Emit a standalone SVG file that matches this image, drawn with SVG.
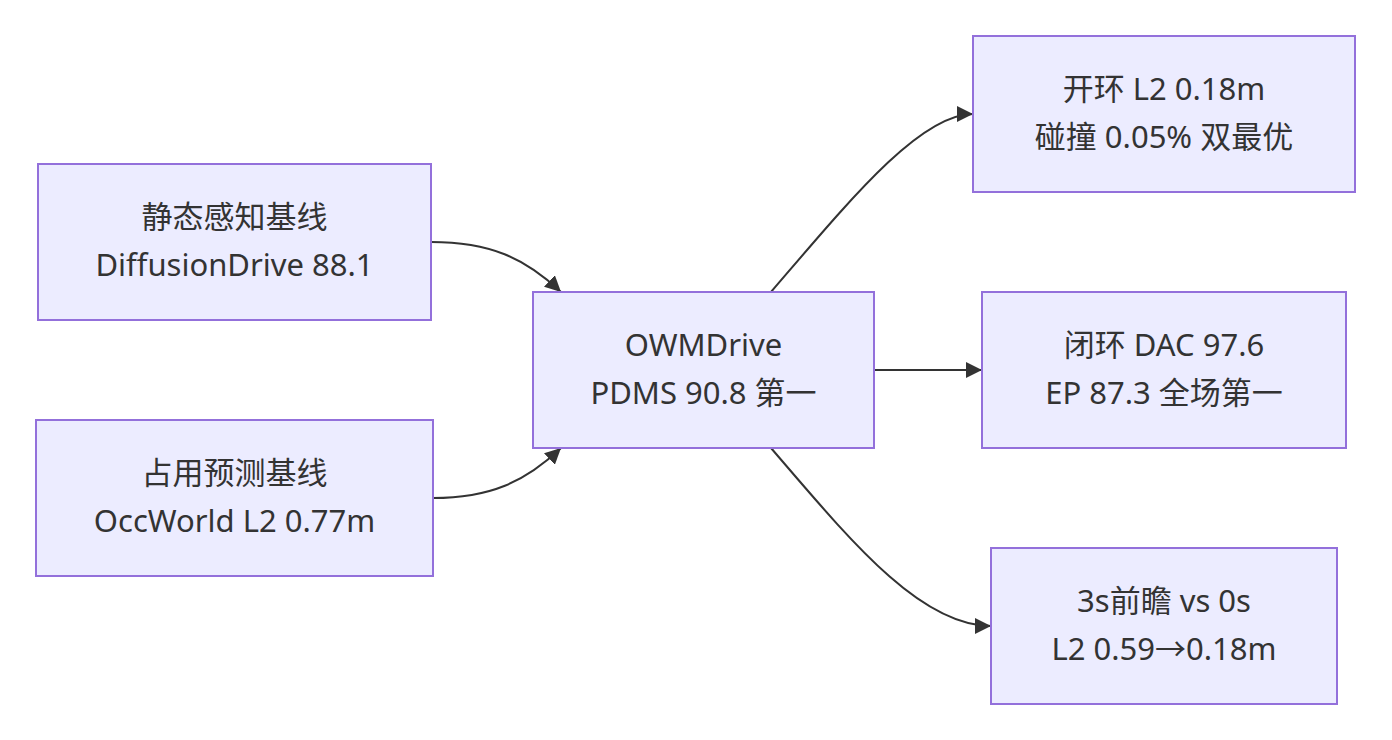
<svg xmlns="http://www.w3.org/2000/svg" width="1392" height="740" viewBox="0 0 1392 740">
<style>
.node rect{fill:#ECECFF;stroke:#9370DB;stroke-width:2}
.node text{font-family:"Noto Sans","Noto Sans CJK SC",sans-serif;font-size:31px;fill:#333;text-anchor:middle}
.edge{fill:none;stroke:#333;stroke-width:2;marker-end:url(#arrow)}
</style>
<defs>
<marker id="arrow" viewBox="0 0 16 16" refX="16" refY="8" markerWidth="16" markerHeight="16" markerUnits="userSpaceOnUse" orient="auto">
<path d="M0,0 L16,8 L0,16 z" fill="#333"/>
</marker>
</defs>
<rect width="1392" height="740" fill="#fff"/>
<g id="connectors">
<path class="edge" d="M431,242 C490,242 525,258 561,292"/>
<path class="edge" d="M433,498 C490,498 525,482 561,448"/>
<path class="edge" d="M771,292 C850,200 920,114 973,114"/>
<path class="edge" d="M874,370 L982,370"/>
<path class="edge" d="M771,448 C850,540 920,626 991,626"/>
</g>
<g id="n1" class="node"><rect x="38" y="164" width="393" height="156"/><text x="234.5" y="228">静态感知基线</text><text x="234.5" y="276">DiffusionDrive 88.1</text></g>
<g id="n2" class="node"><rect x="36" y="420" width="397" height="156"/><text x="234.5" y="484">占用预测基线</text><text x="234.5" y="532">OccWorld L2 0.77m</text></g>
<g id="center" class="node"><rect x="533" y="292" width="341" height="156"/><text x="703.5" y="356">OWMDrive</text><text x="703.5" y="404">PDMS 90.8 第一</text></g>
<g id="r1" class="node"><rect x="973" y="36" width="382" height="156"/><text x="1164" y="100">开环 L2 0.18m</text><text x="1164" y="148">碰撞 0.05% 双最优</text></g>
<g id="r2" class="node"><rect x="982" y="292" width="364" height="156"/><text x="1164" y="356">闭环 DAC 97.6</text><text x="1164" y="404">EP 87.3 全场第一</text></g>
<g id="r3" class="node"><rect x="991" y="548" width="346" height="156"/><text x="1164" y="612">3s前瞻 vs 0s</text><text x="1164" y="660">L2 0.59→0.18m</text></g>
</svg>
